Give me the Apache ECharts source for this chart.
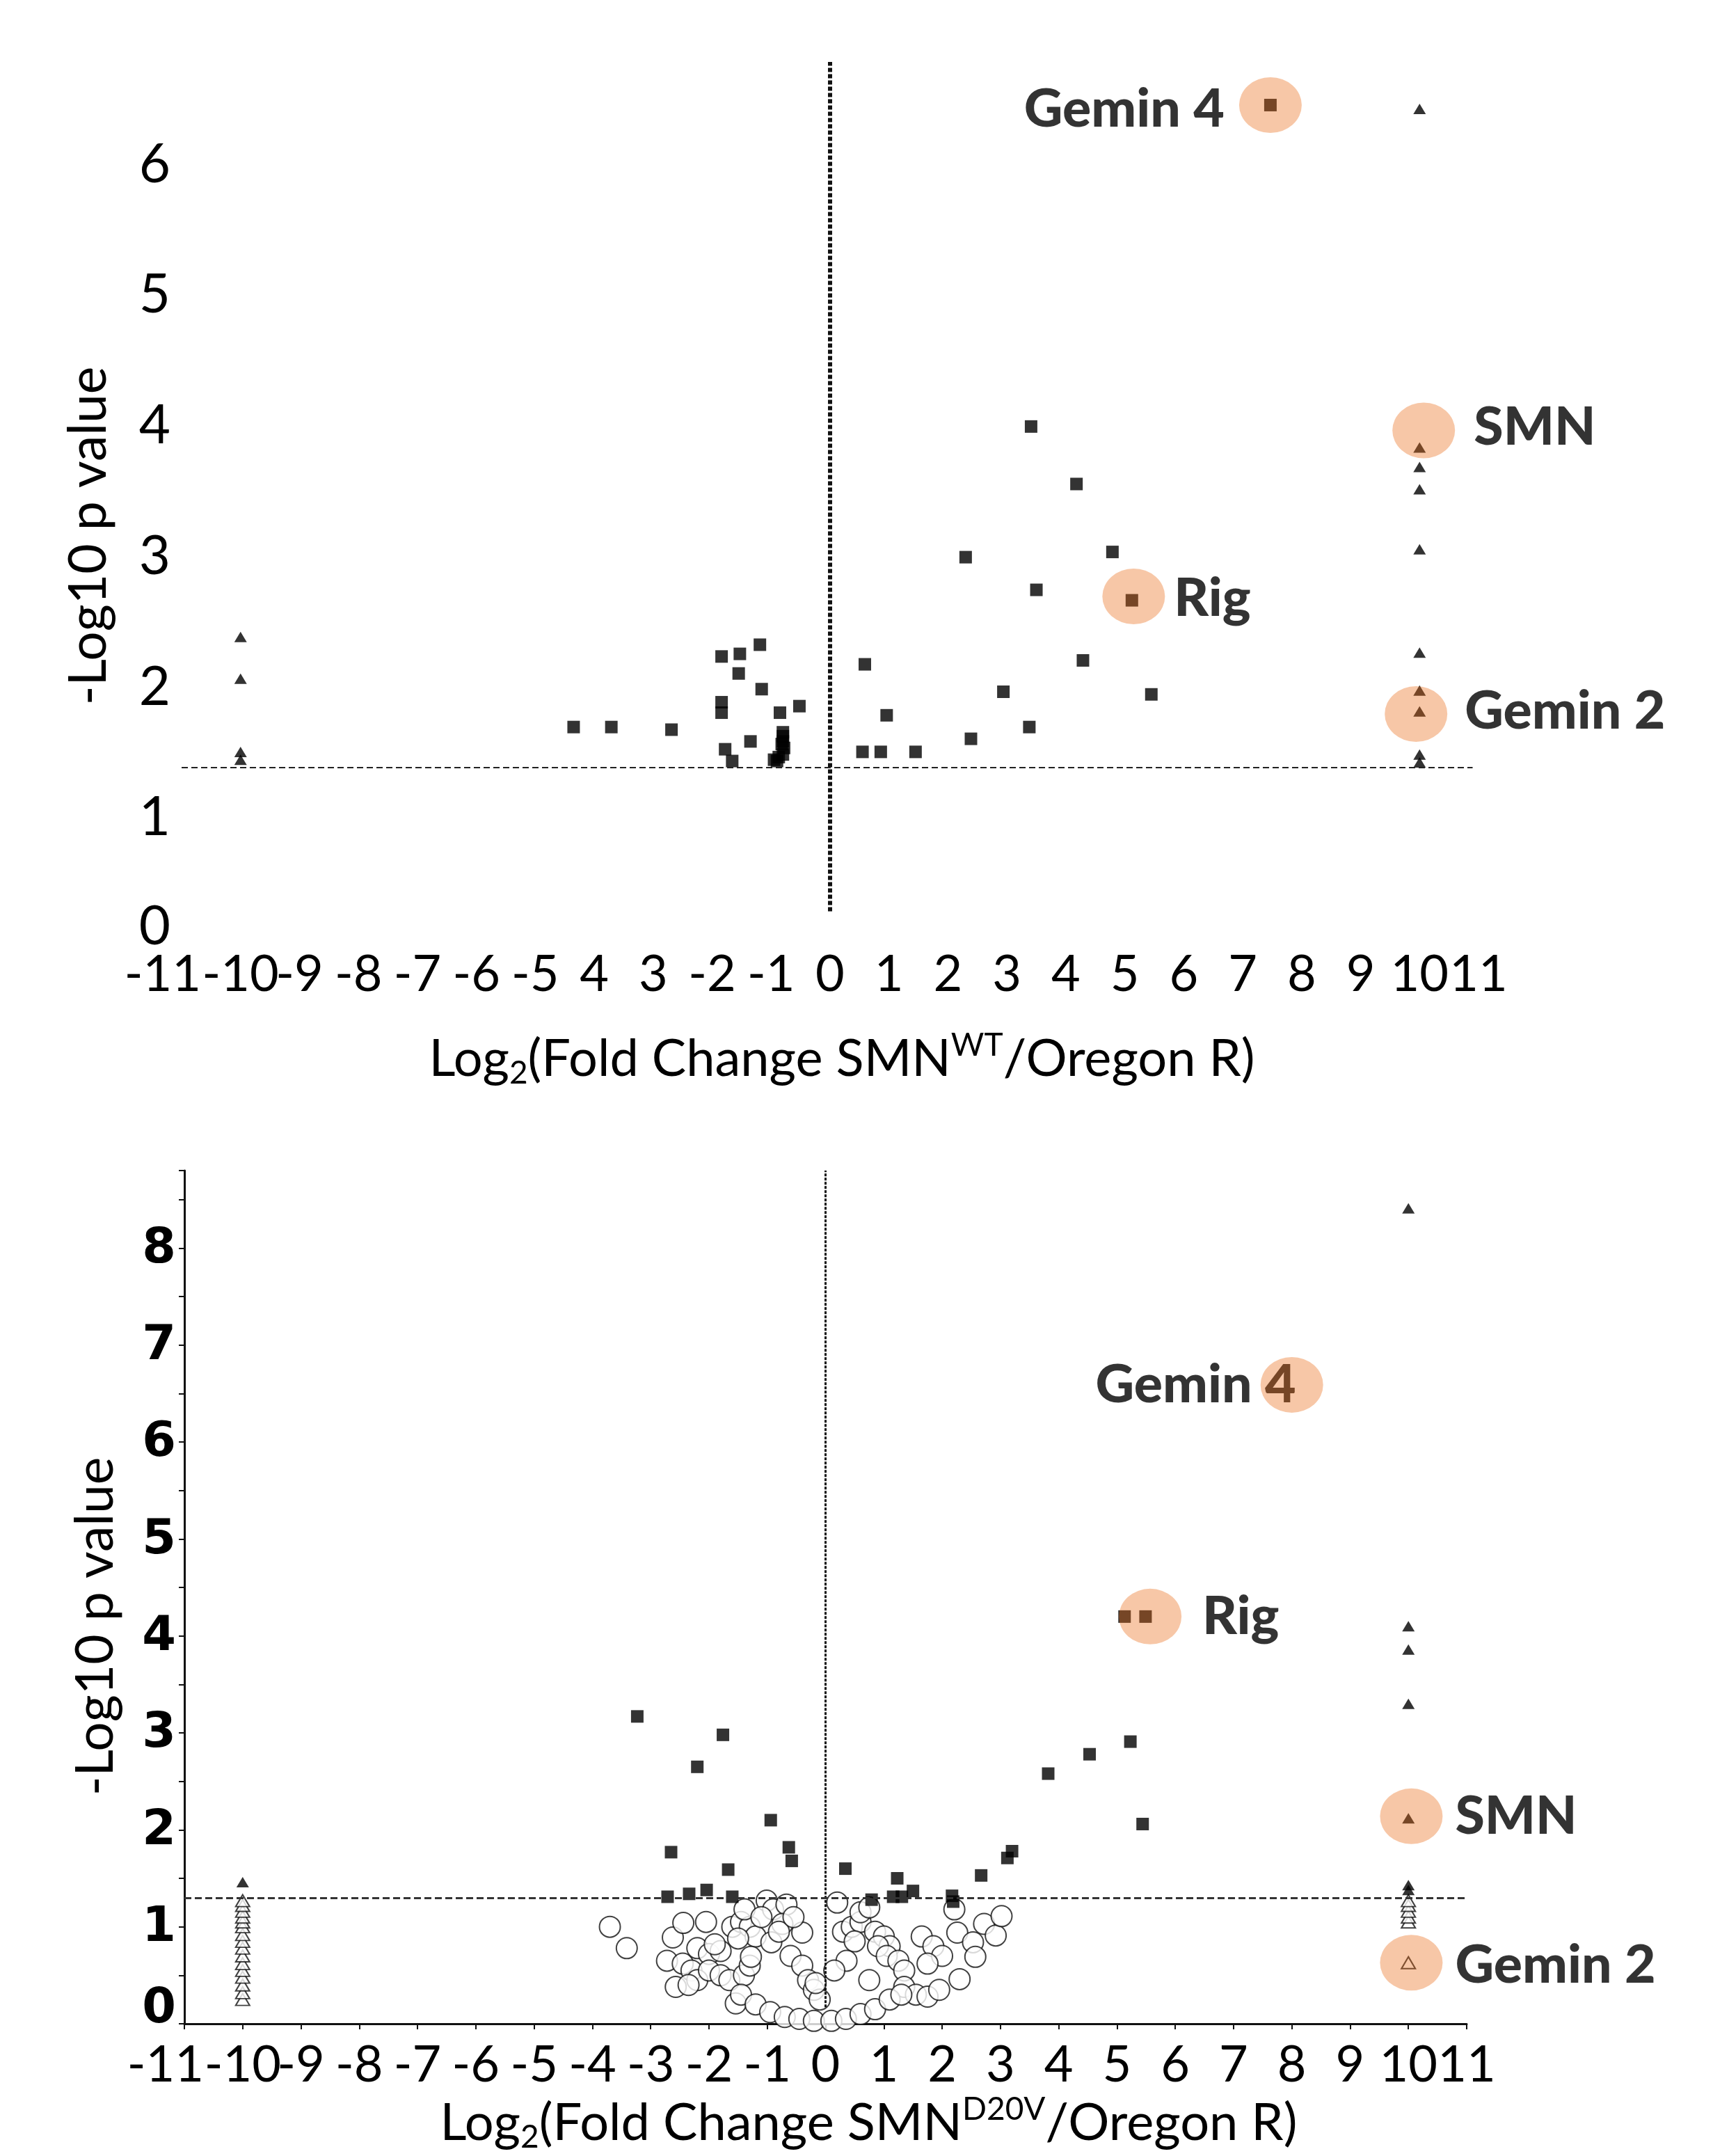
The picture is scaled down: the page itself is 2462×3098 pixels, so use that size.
<!DOCTYPE html>
<html>
<head>
<meta charset="utf-8">
<script src="https://cdn.jsdelivr.net/npm/echarts@6/dist/echarts.min.js"></script>
<style>
html,body{margin:0;padding:0;background:#fff;}
#chart{width:2462px;height:3098px;}
</style>
</head>
<body>
<div id="chart"></div>
<script>
// ---------------- DATA ----------------
const xTickValues = [-11,-10,-9,-8,-7,-6,-5,-4,-3,-2,-1,0,1,2,3,4,5,6,7,8,9,10,11];
const topXTickLabels = ['-11','-10','-9','-8','-7','-6','-5','4','3','-2','-1','0','1','2','3','4','5','6','7','8','9','10','11'];
const botXTickLabels = ['-11','-10','-9','-8','-7','-6','-5','-4','-3','-2','-1','0','1','2','3','4','5','6','7','8','9','10','11'];
const topYTickLabels = ['0','1','2','3','4','5','6'];
const botYTickLabels = ['0','1','2','3','4','5','6','7','8'];

const significanceLine = 1.3;       // -log10(0.05)
const topZeroLineSpan = [0.2, 6.7];
const botZeroLineSpan = [0.17, 8.8];

// Top panel (SMN WT / Oregon R)
const topSquaresX = [-4.35,-3.71,-2.69,-1.84,-1.84,-1.84,-1.53,-1.55,-1.19,-1.16,-0.52,-0.85,-1.35,-1.78,-1.66,-0.80,-0.80,-0.80,
  -0.95,-0.87,-0.80,-0.78,-0.82,-0.90,
  0.59,0.96,0.55,0.86,1.45,2.30,2.39,2.94,3.41,3.50,3.38,4.18,4.29,4.79,5.45,5.12,7.47];
const topSquaresY = [1.61,1.61,1.59,2.15,1.80,1.72,2.17,2.02,2.24,1.90,1.77,1.72,1.50,1.44,1.35,1.57,1.50,1.54,
  1.36,1.38,1.40,1.45,1.48,1.35,
  2.09,1.70,1.42,1.42,1.42,2.91,1.52,1.88,3.91,2.66,1.61,3.47,2.12,2.95,1.86,2.58,6.37];
const topTrianglesX = [10,10,10,10,10,10,10,10,10,10,-10,-10,-10,-10];
const topTrianglesY = [6.34,3.75,3.60,3.43,2.97,2.18,1.89,1.73,1.40,1.34,2.30,1.98,1.42,1.36];
const topHighlightNames = ['Gemin 4','SMN','Rig','Gemin 2'];
const topHighlightX = [7.47,10.07,5.15,9.94];
const topHighlightY = [6.37,3.88,2.61,1.71];

// Bottom panel (SMN D20V / Oregon R)
const botSquaresX = [-3.23,-1.76,-2.20,-0.94,-2.65,-0.63,-0.58,-1.67,-2.71,-2.34,-2.04,-1.60,
  0.34,0.79,1.23,1.16,1.31,1.50,2.17,2.19,2.67,3.12,3.20,3.82,4.53,5.23,5.44,5.13,5.49];
const botSquaresY = [3.17,2.98,2.65,2.10,1.77,1.82,1.68,1.59,1.31,1.34,1.38,1.31,
  1.60,1.28,1.50,1.31,1.31,1.37,1.32,1.26,1.53,1.71,1.78,2.58,2.78,2.91,2.06,4.20,4.20];
const botTrianglesX = [10,10,10,10,10,10,10,-10];
const botTrianglesY = [8.41,4.10,3.86,3.30,2.12,1.43,1.38,1.46];
const botOpenTrianglesX = [-10,-10,-10,-10,-10,-10,-10,-10,-10,-10,-10,-10,-10,-10,-10,-10,10,10,10,10,10,10];
const botOpenTrianglesY = [0.25,0.32,0.40,0.48,0.55,0.62,0.70,0.78,0.85,0.92,1.00,1.05,1.10,1.16,1.22,1.27,1.05,1.10,1.16,1.22,1.27,0.63];
const botOpenCloudX = [-3.70,-3.41,-2.62,-2.44,-2.05,-2.72,-2.57,-2.45,-2.30,-2.20,-2.35,-2.20,-2.00,-1.80,-1.90,
  -2.00,-1.80,-1.65,-1.40,-1.30,-1.60,-1.45,-1.30,-1.20,-1.50,-1.39,-1.01,-0.90,-0.67,-0.74,-0.40,-0.93,
  -1.28,-1.54,-1.45,-1.20,-0.95,-0.70,-0.45,-0.20,-0.60,-0.40,-0.30,-0.20,-0.10,-0.17,-1.10,-0.80,-0.55,
  0.20,0.30,0.45,0.60,0.50,0.60,0.75,0.85,1.00,1.10,0.90,0.36,0.75,0.15,1.05,1.25,1.35,
  1.65,1.85,2.00,1.75,1.35,1.55,1.75,1.95,2.30,2.26,2.53,2.57,2.72,2.92,3.02,2.21,
  0.10,0.35,0.60,0.85,1.10,1.30];
const botOpenCloudY = [1.00,0.78,0.89,1.04,1.05,0.65,0.38,0.62,0.55,0.45,0.40,0.78,0.72,0.75,0.82,
  0.55,0.50,0.45,0.50,0.60,1.00,1.05,1.00,0.90,0.88,1.18,1.27,1.18,1.23,1.03,0.94,0.84,
  0.69,0.21,0.30,0.20,0.12,0.07,0.05,0.03,0.70,0.60,0.45,0.35,0.25,0.42,1.10,0.95,1.10,
  1.25,0.95,1.00,1.05,0.85,1.15,1.20,0.95,0.90,0.80,0.80,0.65,0.45,0.55,0.70,0.65,0.55,
  0.90,0.80,0.70,0.62,0.38,0.30,0.28,0.35,0.46,0.94,0.84,0.69,1.03,0.91,1.11,1.18,
  0.03,0.05,0.10,0.15,0.25,0.30];
const botHighlightNames = ['Gemin 4','Rig','SMN','Gemin 2'];
const botHighlightX = [8.0,5.57,10.05,10.05];
const botHighlightY = [6.59,4.20,2.14,0.63];

// ---------------- STYLE ----------------
const SANS = "Lato,'Liberation Sans',sans-serif";
const HILITE = 'rgba(232,104,17,0.46)';
const ELLIPSE = [90, 80];

const topLabelLayout = {
  'Gemin 4': {position: 'left', distance: 21, offset: [0, 6]},
  'SMN': {position: 'right', distance: 27, offset: [0, -4]},
  'Rig': {position: 'right', distance: 13, offset: [0, 3]},
  'Gemin 2': {position: 'right', distance: 25, offset: [0, -4]}
};
const botLabelLayout = {
  'Gemin 4': {position: [51, 40], align: 'right', verticalAlign: 'middle'},
  'Rig': {position: 'right', distance: 30, offset: [0, 0]},
  'SMN': {position: 'right', distance: 18, offset: [0, 0]},
  'Gemin 2': {position: 'right', distance: 18, offset: [0, 4]}
};

function zip(xs, ys) { return xs.map((x, i) => [x, ys[i]]); }
// x tick formatter: the first label is kept in a narrow right-aligned box
function xTickFormatter(labels, values) {
  return function (v) {
    if (Math.abs(v - Math.round(v)) > 1e-6) return '';
    const i = values.indexOf(Math.round(v));
    if (i < 0 || labels[i] === undefined) return '';
    return i === 0 ? '{first|' + labels[i] + '}' : '{n|' + labels[i] + '}';
  };
}
// y tick formatter: zero label lifted, others lowered a little
function yTickFormatter(labels, values) {
  return function (v) {
    if (Math.abs(v - Math.round(v)) > 1e-6) return '';
    const i = values.indexOf(Math.round(v));
    if (i < 0 || labels[i] === undefined) return '';
    return i === 0 ? '{z|' + labels[i] + '}' : '{n|' + labels[i] + '}';
  };
}
const yValues = [0,1,2,3,4,5,6,7,8];

function labelData(names, xs, ys, layout) {
  return names.map((n, i) => {
    const l = layout[n];
    const lab = {position: l.position};
    if (l.distance !== undefined) lab.distance = l.distance;
    if (l.offset) lab.offset = l.offset;
    if (l.align) lab.align = l.align;
    if (l.verticalAlign) lab.verticalAlign = l.verticalAlign;
    return {name: n, value: [xs[i], ys[i]], label: lab};
  });
}

const titleRich = {
  a: {fontFamily: SANS, fontSize: 74, color: '#000', lineHeight: 86},
  sub: {fontFamily: SANS, fontSize: 46, color: '#000', lineHeight: 40, verticalAlign: 'bottom'},
  sup: {fontFamily: SANS, fontSize: 46, color: '#000', lineHeight: 40, verticalAlign: 'top'}
};
const xLabelRich = {
  n: {fontFamily: SANS, fontSize: 72, color: '#000'},
  first: {fontFamily: SANS, fontSize: 72, color: '#000', width: 56, align: 'right'}
};
const topYRich = {
  n: {fontFamily: SANS, fontSize: 78, color: '#000', padding: [32, 0, 0, 0]},
  z: {fontFamily: SANS, fontSize: 78, color: '#000', padding: [0, 0, 30, 0]}
};
const botYRich = {
  n: {fontFamily: "'DejaVu Sans',sans-serif", fontWeight: 'bold', fontSize: 70, color: '#000', padding: [4, 0, 0, 0]},
  z: {fontFamily: "'DejaVu Sans',sans-serif", fontWeight: 'bold', fontSize: 70, color: '#000', padding: [0, 0, 40, 0]}
};

const option = {
  animation: false,
  backgroundColor: '#fff',
  grid: [
    {left: 261, top: 89, width: 1864, height: 1258},
    {left: 265, top: 1682, width: 1843, height: 1226}
  ],
  xAxis: [
    {
      gridIndex: 0, type: 'value', min: -11, max: 11, interval: 1,
      axisLine: {show: false}, axisTick: {show: false}, splitLine: {show: false},
      axisLabel: {margin: 18, fontFamily: SANS, fontSize: 72, color: '#000',
        showMinLabel: true, showMaxLabel: true, hideOverlap: false, rich: xLabelRich,
        formatter: xTickFormatter(topXTickLabels, xTickValues)},
      name: '{a|Log}{sub|2}{a|(Fold Change SMN}{sup|WT}{a|/Oregon R)}',
      nameLocation: 'middle', nameGap: 132, nameMoveOverlap: false,
      nameTextStyle: {rich: titleRich, padding: [0, 0, 0, 34]}
    },
    {
      gridIndex: 1, type: 'value', min: -11, max: 11, interval: 1,
      axisLine: {show: true, onZero: false, lineStyle: {color: '#111', width: 3}},
      axisTick: {show: true, inside: false, length: 8, lineStyle: {color: '#111', width: 2}},
      splitLine: {show: false},
      axisLabel: {margin: 24, fontFamily: SANS, fontSize: 72, color: '#000',
        showMinLabel: true, showMaxLabel: true, hideOverlap: false, rich: xLabelRich,
        formatter: xTickFormatter(botXTickLabels, xTickValues)},
      name: '{a|Log}{sub|2}{a|(Fold Change SMN}{sup|D20V}{a|/Oregon R)}',
      nameLocation: 'middle', nameGap: 100, nameMoveOverlap: false,
      nameTextStyle: {rich: titleRich, padding: [0, 0, 0, 124]}
    }
  ],
  yAxis: [
    {
      gridIndex: 0, type: 'value', min: 0, max: 6.7, interval: 1,
      axisLine: {show: false}, axisTick: {show: false}, splitLine: {show: false},
      axisLabel: {margin: 16, fontFamily: SANS, fontSize: 78, color: '#000', showMaxLabel: false, rich: topYRich,
        formatter: yTickFormatter(topYTickLabels, yValues)},
      name: '-Log10 p value', nameLocation: 'middle', nameGap: 96, nameMoveOverlap: false,
      nameTextStyle: {fontFamily: SANS, fontSize: 75, color: '#000', padding: [0, 104, 0, 0]}
    },
    {
      gridIndex: 1, type: 'value', min: 0, max: 8.8, interval: 1,
      axisLine: {show: true, onZero: false, lineStyle: {color: '#111', width: 3}},
      axisTick: {show: true, inside: false, length: 8, lineStyle: {color: '#111', width: 2}},
      minorTick: {show: true, splitNumber: 2, length: 8, lineStyle: {color: '#111', width: 2}},
      splitLine: {show: false},
      axisLabel: {margin: 12, fontFamily: "'DejaVu Sans',sans-serif", fontWeight: 'bold', fontSize: 70, color: '#000',
        showMaxLabel: false, rich: botYRich,
        formatter: yTickFormatter(botYTickLabels, yValues)},
      name: '-Log10 p value', nameLocation: 'middle', nameGap: 90, nameMoveOverlap: false,
      nameTextStyle: {fontFamily: SANS, fontSize: 75, color: '#000', padding: [0, 84, 0, 0]}
    }
  ],
  series: [
    // ---- top panel ----
    {
      type: 'scatter', xAxisIndex: 0, yAxisIndex: 0, z: 2,
      symbol: 'rect', symbolSize: 18, itemStyle: {color: '#000'},
      data: zip(topSquaresX, topSquaresY),
      markLine: {
        silent: true, symbol: 'none', label: {show: false},
        lineStyle: {type: [6, 3], width: 6, color: '#111'},
        data: [[{coord: [0, topZeroLineSpan[0]]}, {coord: [0, topZeroLineSpan[1]]}]]
      }
    },
    {
      type: 'scatter', xAxisIndex: 0, yAxisIndex: 0, z: 2,
      symbol: 'triangle', symbolSize: [18, 15], itemStyle: {color: '#000'},
      data: zip(topTrianglesX, topTrianglesY),
      markLine: {
        silent: true, symbol: 'none', label: {show: false},
        lineStyle: {type: [9, 5], width: 2, color: '#222'},
        data: [[{coord: [-11, significanceLine]}, {coord: [10.9, significanceLine]}]]
      }
    },
    {
      type: 'scatter', xAxisIndex: 0, yAxisIndex: 0, z: 3,
      symbol: 'circle', symbolSize: ELLIPSE, itemStyle: {color: 'rgba(0,0,0,0)'},
      label: {show: true, formatter: '{b}', fontFamily: SANS, fontWeight: 900, fontSize: 77, color: '#000'},
      data: labelData(topHighlightNames, topHighlightX, topHighlightY, topLabelLayout)
    },
    {
      type: 'scatter', xAxisIndex: 0, yAxisIndex: 0, z: 4,
      symbol: 'circle', symbolSize: ELLIPSE, itemStyle: {color: HILITE},
      data: zip(topHighlightX, topHighlightY)
    },
    // ---- bottom panel ----
    {
      type: 'scatter', xAxisIndex: 1, yAxisIndex: 1, z: 2,
      symbol: 'circle', symbolSize: 30, itemStyle: {color: '#fff', borderColor: '#111', borderWidth: 2},
      data: zip(botOpenCloudX, botOpenCloudY),
      markLine: {
        silent: true, symbol: 'none', label: {show: false},
        lineStyle: {type: [4, 2], width: 3, color: '#111'},
        data: [[{coord: [0, botZeroLineSpan[0]]}, {coord: [0, botZeroLineSpan[1]]}]]
      }
    },
    {
      type: 'scatter', xAxisIndex: 1, yAxisIndex: 1, z: 2,
      symbol: 'triangle', symbolSize: [20, 17], itemStyle: {color: '#fff', borderColor: '#111', borderWidth: 2},
      data: zip(botOpenTrianglesX, botOpenTrianglesY),
      markLine: {
        silent: true, symbol: 'none', label: {show: false},
        lineStyle: {type: [10, 5], width: 3, color: '#333'},
        data: [[{coord: [-11, significanceLine]}, {coord: [11, significanceLine]}]]
      }
    },
    {
      type: 'scatter', xAxisIndex: 1, yAxisIndex: 1, z: 2,
      symbol: 'rect', symbolSize: 18, itemStyle: {color: '#000'},
      data: zip(botSquaresX, botSquaresY)
    },
    {
      type: 'scatter', xAxisIndex: 1, yAxisIndex: 1, z: 2,
      symbol: 'triangle', symbolSize: [18, 15], itemStyle: {color: '#000'},
      data: zip(botTrianglesX, botTrianglesY)
    },
    {
      type: 'scatter', xAxisIndex: 1, yAxisIndex: 1, z: 3,
      symbol: 'circle', symbolSize: ELLIPSE, itemStyle: {color: 'rgba(0,0,0,0)'},
      label: {show: true, formatter: '{b}', fontFamily: SANS, fontWeight: 900, fontSize: 77, color: '#000'},
      data: labelData(botHighlightNames, botHighlightX, botHighlightY, botLabelLayout)
    },
    {
      type: 'scatter', xAxisIndex: 1, yAxisIndex: 1, z: 4,
      symbol: 'circle', symbolSize: ELLIPSE, itemStyle: {color: HILITE},
      data: zip(botHighlightX, botHighlightY)
    }
  ]
};

const chart = echarts.init(document.getElementById('chart'), null, {renderer: 'canvas'});
chart.setOption(option);
</script>
</body>
</html>
